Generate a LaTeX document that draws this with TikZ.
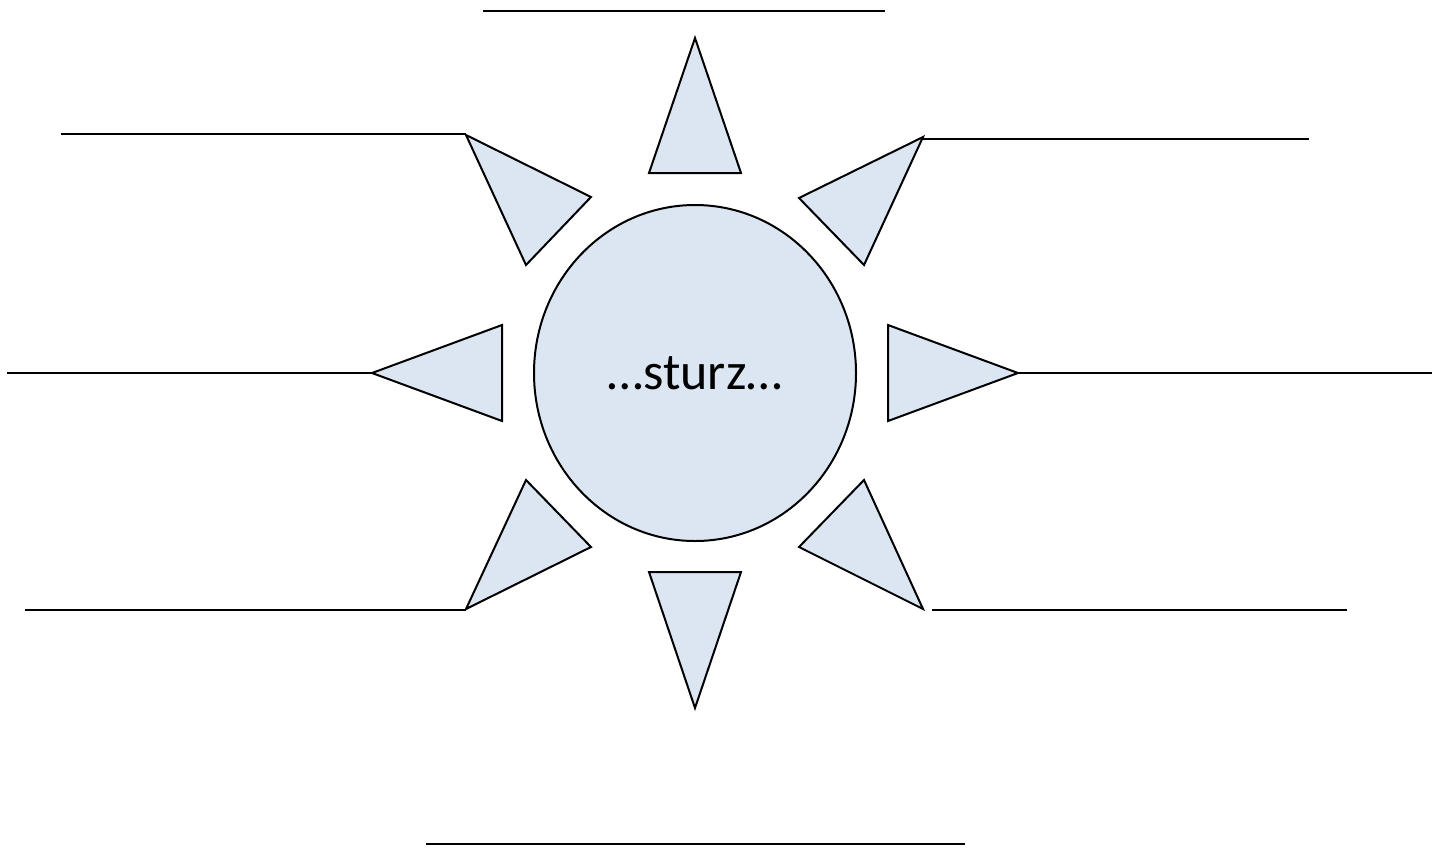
\documentclass[tikz,border=0pt]{standalone}
\usepackage{fontspec}
\setmainfont{Carlito}
\usepackage{tikz}
\usetikzlibrary{shapes.geometric}
\definecolor{sunfill}{HTML}{dce6f2}

\begin{document}
\begin{tikzpicture}[x=0.5pt, y=-0.5pt,
  ray/.style={draw=black, fill=sunfill, line width=1pt, line join=miter},
  wline/.style={draw=black, line width=1pt},
  sun/.style={ellipse, draw=black, fill=sunfill, line width=1pt,
              minimum width=161pt, minimum height=168pt, inner sep=0pt,
              font=\fontsize{26}{30}\selectfont}]
\useasboundingbox (0,0) rectangle (1444,847);
\node[sun] (core) at (695,373) {…sturz…};
% rays, clockwise from the top
\coordinate (tN)  at (695,38);
\coordinate (tNE) at (923,137);
\coordinate (tE)  at (1018,373);
\coordinate (tSE) at (923,609);
\coordinate (tS)  at (695,708);
\coordinate (tSW) at (466,609);
\coordinate (tW)  at (372,373);
\coordinate (tNW) at (466,135);
\path[ray] (tN) -- (741,173) -- (649,173) -- cycle;
\path[ray] (tNE) -- (864,265) -- (799,198) -- cycle;
\path[ray] (tE) -- (888,421) -- (888,325) -- cycle;
\path[ray] (tSE) -- (799,547) -- (864,480) -- cycle;
\path[ray] (tS) -- (649,572) -- (741,572) -- cycle;
\path[ray] (tSW) -- (526,480) -- (591,547) -- cycle;
\path[ray] (tW) -- (502,325) -- (502,421) -- cycle;
\path[ray] (tNW) -- (591,197) -- (526,265) -- cycle;
% writing lines
\coordinate (lN1) at (483,11);  \coordinate (lN2) at (885,11);
\coordinate (lS1) at (426,844); \coordinate (lS2) at (965,844);
\coordinate (lNW) at (61,134);
\coordinate (lNE) at (1309,139);
\coordinate (lW)  at (7,373);
\coordinate (lE)  at (1432,373);
\coordinate (lSW) at (25,610);
\coordinate (lSE1) at (932,610); \coordinate (lSE2) at (1347,610);
\draw[wline] (lN1) -- (lN2);
\draw[wline] (lS1) -- (lS2);
\draw[wline] (lNW) -- (lNW-|tNW);
\draw[wline] (tNE|-lNE) -- (lNE);
\draw[wline] (lW) -- (tW);
\draw[wline] (tE) -- (lE);
\draw[wline] (lSW) -- (lSW-|tSW);
\draw[wline] (lSE1) -- (lSE2);
\end{tikzpicture}
\end{document}
